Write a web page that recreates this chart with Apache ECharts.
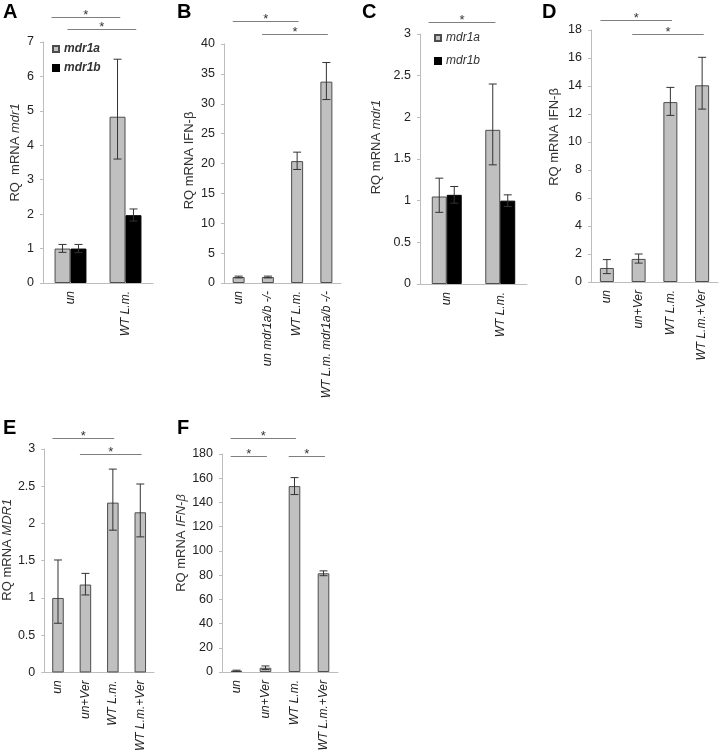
<!DOCTYPE html>
<html><head><meta charset="utf-8">
<script src="https://cdn.jsdelivr.net/npm/echarts@6/dist/echarts.min.js"></script>
<style>html,body{margin:0;padding:0;background:#fff}#c{width:720px;height:754px}</style>
</head><body><div id="c"></div>
<script>
// ---------- DATA ----------
// Panel A
const catsA = ['un', 'WT L.m.'];
const mdr1aA = [1.0, 4.83];
const mdr1aA_err = [[0.89, 1.12], [3.6, 6.5]];
const mdr1bA = [1.0, 1.97];
const mdr1bA_err = [[0.88, 1.12], [1.8, 2.15]];
const sigA = [[0, 1, 7.73, 0], [0, 1, 7.38, 1]]; // [fromCat, toCat, bracketHeight, seriesIdx]
const ticksA = [0, 7, 1];
// Panel B
const catsB = ['un', 'un mdr1a/b -/-', 'WT L.m.', 'WT L.m. mdr1a/b -/-'];
const ifnB = [1.0, 1.0, 20.4, 33.7];
const ifnB_err = [[0.85, 1.15], [0.85, 1.15], [19.0, 21.9], [30.7, 36.9]];
const sigB = [[0, 2, 43.85], [1, 3, 41.7]];
const ticksB = [0, 40, 5];
// Panel C
const catsC = ['un', 'WT L.m.'];
const mdr1aC = [1.05, 1.85];
const mdr1aC_err = [[0.86, 1.27], [1.43, 2.4]];
const mdr1bC = [1.07, 1.0];
const mdr1bC_err = [[0.97, 1.17], [0.93, 1.07]];
const sigC = [[0, 1, 3.14, 0]];
const ticksC = [0, 3, 0.5];
// Panel D
const catsD = ['un', 'un+Ver', 'WT L.m.', 'WT L.m.+Ver'];
const ifnD = [1.0, 1.65, 12.85, 14.05];
const ifnD_err = [[0.6, 1.6], [1.35, 2.0], [11.9, 13.9], [12.35, 16.05]];
const sigD = [[0, 2, 18.7], [1, 3, 17.7]];
const ticksD = [0, 18, 2];
// Panel E
const catsE = ['un', 'un+Ver', 'WT L.m.', 'WT L.m.+Ver'];
const mdrE = [1.0, 1.18, 2.28, 2.15];
const mdrE_err = [[0.66, 1.51], [1.04, 1.33], [1.91, 2.73], [1.82, 2.53]];
const sigE = [[0, 2, 3.15], [1, 3, 2.93]];
const ticksE = [0, 3, 0.5];
// Panel F
const catsF = ['un', 'un+Ver', 'WT L.m.', 'WT L.m.+Ver'];
const ifnF = [1.0, 3.5, 153.5, 81.5];
const ifnF_err = [[0.5, 1.5], [2.0, 5.0], [146.5, 160.5], [79.5, 83.5]];
const sigF = [[0, 2, 193.2], [0, 1, 178.3], [2, 3, 178.3]];
const ticksF = [0, 180, 20];

// ---------- STYLE / BUILD ----------
const FONT = 'Liberation Sans, Arial, sans-serif';
const GRAY = '#c0c0c0', EDGE = '#4d4d4d', AXIS = '#bdbdbd', TXT = '#222';

const option = {
  animation: false, backgroundColor: '#fff',
  textStyle: {fontFamily: FONT},
  title: [], legend: [], grid: [], xAxis: [], yAxis: [], series: []
};

function addPanel(p) {
  const gi = option.grid.length;
  option.grid.push({left: p.grid[0], top: p.grid[1], width: p.grid[2], height: p.grid[3], containLabel: false});
  option.title.push({text: p.letter, left: p.letterPos[0], top: p.letterPos[1], padding: 0,
    textStyle: {fontSize: 20, fontWeight: 'bold', color: '#000', fontFamily: FONT}});
  option.xAxis.push({type: 'category', gridIndex: gi, data: p.cats,
    axisLine: {lineStyle: {color: AXIS}}, axisTick: {length: 4, lineStyle: {color: AXIS}},
    axisLabel: {rotate: 90, margin: 8, fontSize: 12, fontStyle: 'italic', color: TXT, fontFamily: FONT, interval: 0}});
  option.yAxis.push({type: 'value', gridIndex: gi, min: p.ticks[0], max: p.ticks[1], interval: p.ticks[2],
    splitLine: {show: false},
    axisLine: {show: true, lineStyle: {color: AXIS}}, axisTick: {show: true, length: 3, lineStyle: {color: AXIS}},
    axisLabel: {fontSize: 12.5, color: TXT, margin: 9, fontFamily: FONT},
    name: p.yname, nameLocation: 'middle', nameGap: p.nameGap,
    nameTextStyle: {fontSize: 13, color: '#333', fontFamily: FONT, padding: [0, 0, 0, p.nameShift * 2],
      rich: {n: {fontSize: 13, color: '#333', fontFamily: FONT},
             i: {fontSize: 13, color: '#333', fontStyle: 'italic', fontFamily: FONT}}}});
  const n = p.series.length;
  const gap = p.gap;
  p.series.forEach((s, k) => {
    option.series.push({type: 'bar', name: s.name, xAxisIndex: gi, yAxisIndex: gi, data: s.values,
      barGap: '0%', barCategoryGap: (gap * 100) + '%',
      itemStyle: {color: s.color, borderColor: s.border, borderWidth: 1}, z: 2});
    const errData = s.err.map((e, i) => [i, e[0], e[1]]);
    option.series.push({type: 'custom', xAxisIndex: gi, yAxisIndex: gi, data: errData, z: 5, silent: true,
      encode: {x: 0, y: [1, 2]},
      renderItem: function (params, api) {
        const band = api.size([1, 0])[0];
        const bw = band * (1 - gap) / n;
        const dx = (k - (n - 1) / 2) * bw;
        const lo = api.coord([api.value(0), api.value(1)]);
        const hi = api.coord([api.value(0), api.value(2)]);
        const x = lo[0] + dx, c = 4;
        const st = {stroke: '#333', lineWidth: 1};
        return {type: 'group', children: [
          {type: 'line', shape: {x1: x, y1: lo[1], x2: x, y2: hi[1]}, style: st},
          {type: 'line', shape: {x1: x - c, y1: hi[1], x2: x + c, y2: hi[1]}, style: st},
          {type: 'line', shape: {x1: x - c, y1: lo[1], x2: x + c, y2: lo[1]}, style: st}
        ]};
      }});
  });
  // significance brackets
  option.series.push({type: 'custom', xAxisIndex: gi, yAxisIndex: gi, data: p.sig, z: 6, silent: true, clip: false,
    encode: {x: [0, 1], y: 2},
    renderItem: function (params, api) {
      const band = api.size([1, 0])[0];
      const bw = band * (1 - gap) / n;
      const si = p.sig[params.dataIndex][3];
      const dx = (si === undefined) ? 0 : (si - (n - 1) / 2) * bw;
      const a = api.coord([api.value(0), api.value(2)]);
      const b = api.coord([api.value(1), api.value(2)]);
      const x1 = a[0] - 0.2 * band + dx, x2 = b[0] + 0.05 * band + dx, y = Math.round(a[1]) + 0.5;
      return {type: 'group', children: [
        {type: 'line', shape: {x1: x1, y1: y, x2: x2, y2: y}, style: {stroke: '#7f7f7f', lineWidth: 1}},
        {type: 'text', x: (x1 + x2) / 2, y: y - 2,
         style: {text: '*', fontSize: 13, fill: '#333', align: 'center', verticalAlign: 'middle', fontFamily: FONT}}
      ]};
    }});
  if (p.legend) {
    option.legend.push(Object.assign({orient: 'vertical', data: p.series.map(s => s.name), icon: 'rect',
      itemWidth: 6, itemHeight: 6, padding: 0, selectedMode: false,
      textStyle: {fontSize: 12, fontStyle: 'italic', color: '#333', fontFamily: FONT, padding: [0, 0, 0, -2]}}, p.legend));
  }
}

addPanel({letter: 'A', letterPos: [3, 2], grid: [43, 42, 110, 241], cats: catsA, ticks: ticksA,
  yname: '{n|RQ  mRNA }{i|mdr1}', nameGap: 21, nameShift: 10, gap: 0.42, sig: sigA,
  series: [{name: 'mdr1a', values: mdr1aA, err: mdr1aA_err, color: GRAY, border: EDGE},
           {name: 'mdr1b', values: mdr1bA, err: mdr1bA_err, color: '#000', border: '#000'}],
  legend: {left: 52, top: 43, itemGap: 7, textStyle: {fontSize: 12, fontStyle: 'italic', fontWeight: 'bold', color: '#333', fontFamily: FONT}}});
addPanel({letter: 'B', letterPos: [177, 2], grid: [224, 44, 117, 239], cats: catsB, ticks: ticksB,
  yname: 'RQ mRNA IFN-β', nameGap: 28, nameShift: 3, gap: 0.59, sig: sigB,
  series: [{name: 'IFN-β B', values: ifnB, err: ifnB_err, color: GRAY, border: EDGE}]});
addPanel({letter: 'C', letterPos: [362, 2], grid: [420, 34, 107, 250], cats: catsC, ticks: ticksC,
  yname: '{n|RQ mRNA }{i|mdr1}', nameGap: 37, nameShift: 12, gap: 0.44, sig: sigC,
  series: [{name: 'mdr1a', values: mdr1aC, err: mdr1aC_err, color: GRAY, border: EDGE},
           {name: 'mdr1b', values: mdr1bC, err: mdr1bC_err, color: '#000', border: '#000'}],
  legend: {left: 434, top: 32, itemGap: 11, textStyle: {fontSize: 12, fontStyle: 'italic', color: '#333', fontFamily: FONT}}});
addPanel({letter: 'D', letterPos: [542, 2], grid: [591, 30, 127, 252], cats: catsD, ticks: ticksD,
  yname: 'RQ mRNA IFN-β', nameGap: 30, nameShift: 19, gap: 0.56, sig: sigD,
  series: [{name: 'IFN-β D', values: ifnD, err: ifnD_err, color: GRAY, border: EDGE}]});
addPanel({letter: 'E', letterPos: [3, 418], grid: [40, 449, 114, 225], cats: catsE, ticks: ticksE,
  yname: '{n|RQ mRNA }{i|MDR1}', nameGap: 27, nameShift: 11, gap: 0.58, sig: sigE,
  series: [{name: 'MDR1 E', values: mdrE, err: mdrE_err, color: GRAY, border: EDGE}]});
addPanel({letter: 'F', letterPos: [177, 418], grid: [222, 454, 116, 218], cats: catsF, ticks: ticksF,
  yname: '{n|RQ mRNA }{i|IFN-β}', nameGap: 25, nameShift: 20, gap: 0.6, sig: sigF,
  series: [{name: 'IFN-β F', values: ifnF, err: ifnF_err, color: GRAY, border: EDGE}]});

const chart = echarts.init(document.getElementById('c'), null, {renderer: 'canvas'});
chart.setOption(option);
</script></body></html>
